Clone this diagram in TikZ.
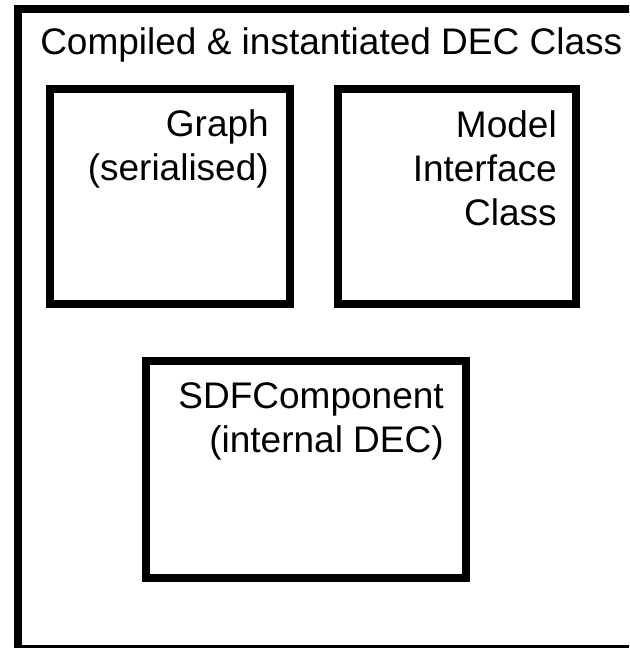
\documentclass[tikz,border=0pt]{standalone}
\usepackage{fontspec}
\setmainfont{Liberation Sans}
\begin{document}
\begin{tikzpicture}[x=0.75pt,y=-0.75pt,
  boxline/.style={draw=black,line width=6pt,line join=miter},
  lbl/.style={inner sep=0pt,align=right,anchor=base east,
    font=\fontsize{27.75}{33}\selectfont}]
\useasboundingbox (0,0) rectangle (629,648);
\begin{scope}
\clip (0,0) rectangle (629,648);
\draw[boxline] (17.5,9) rectangle (640,649);
\end{scope}
\node[inner sep=0pt,anchor=base west,font=\fontsize{27.75}{33}\selectfont] (title) at (40,55) {Compiled \& instantiated DEC Class};
\draw[boxline] (50,89) rectangle (290,304);
\draw[boxline] (338,89) rectangle (576,304);
\draw[boxline] (146,361) rectangle (466,578);
\node[lbl] (graph) at (269,181) {Graph\\(serialised)};
\node[lbl] (model) at (557,226) {Model\\Interface\\Class};
\node[lbl] (sdf) at (444,452) {SDFComponent\\(internal DEC)};
\end{tikzpicture}
\end{document}
